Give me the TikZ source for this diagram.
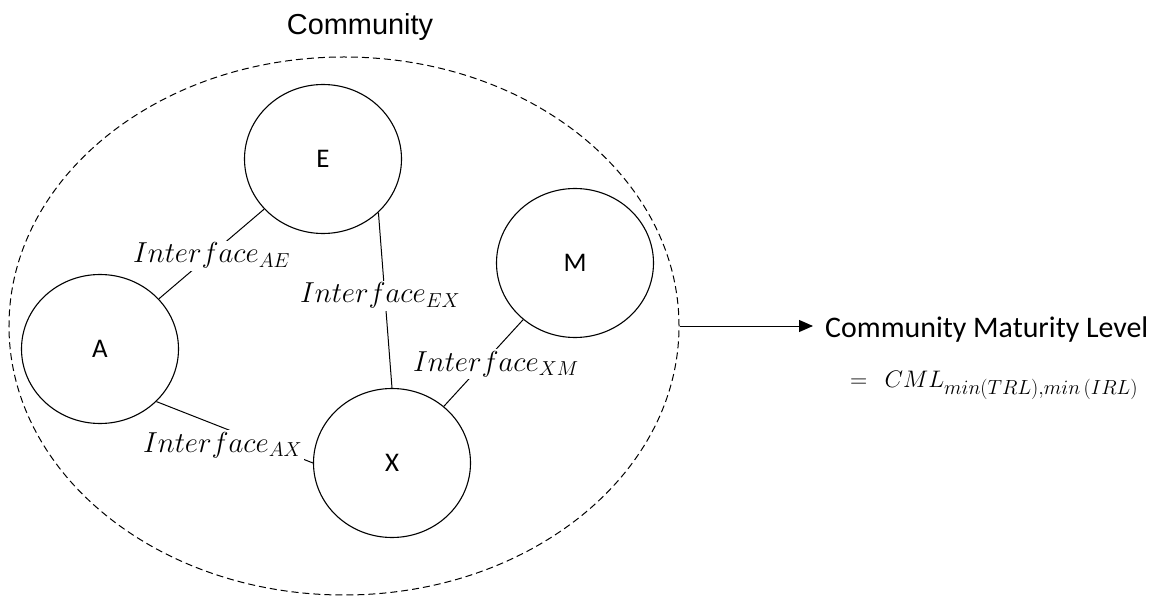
\RequirePackage{fix-cm}
\documentclass[tikz,border=0pt]{standalone}
\usepackage{fontspec}
\setmainfont{Carlito}
\newfontfamily\titlefont{Liberation Sans}
\usetikzlibrary{shapes.geometric,arrows.meta}
% larger subscripts for the maturity-level formula
\DeclareMathSizes{24}{24}{20.5}{15}

\begin{document}
\begin{tikzpicture}[x=1bp,y=-1bp,
  comp/.style={ellipse, draw, line width=1.1bp, minimum width=157bp,
    minimum height=149bp, inner sep=0pt, font=\fontsize{27}{32}\selectfont},
  link/.style={line width=1bp},
  iface/.style={fill=white, inner sep=2bp, anchor=base west,
    font=\fontsize{29}{34}\selectfont},
  boundary/.style={ellipse, draw, line width=1bp, dash pattern=on 7bp off 4bp,
    minimum width=670bp, minimum height=538bp, inner sep=0pt},
]
\useasboundingbox (0,0) rectangle (1152,597);

% community boundary and its title
\node[boundary] (comm) at (344,326) {};
\node[font=\titlefont\fontsize{29}{34}\selectfont] (title) at (360,27) {Community};

% members of the community
\node[comp] (E) at (323,159) {E};
\node[comp] (A) at (100,349) {A};
\node[comp] (M) at (575,263) {M};
\node[comp] (X) at (392,463) {X};

% interfaces between members
\draw[link] (A) -- (E);
\draw[link] (E.-44) -- (X.north);
\draw[link] (X) -- (M);
\draw[link] (A.-43) -- (X.west);

\node[iface] (lAE) at (131,263) {$Interface_{AE}$};
\node[iface] (lEX) at (298,303) {$Interface_{EX}$};
\node[iface] (lXM) at (411,371) {$Interface_{XM}$};
\node[iface] (lAX) at (141,452) {$Interface_{AX}$};

% resulting maturity level
\node[anchor=base west, inner sep=0pt, inner xsep=12bp,
  font=\fontsize{30}{36}\selectfont] (cml) at (813,338) {Community Maturity Level};
\node[anchor=base west, inner sep=0pt, font=\fontsize{24}{29}\selectfont]
  (eq) at (850,387) {$=\;\,CML_{min(TRL),min\,(IRL)}$};

\draw[link, -{Triangle[length=14bp,width=12bp]}] (comm.east) -- (comm.east -| cml.west);
\end{tikzpicture}
\end{document}
